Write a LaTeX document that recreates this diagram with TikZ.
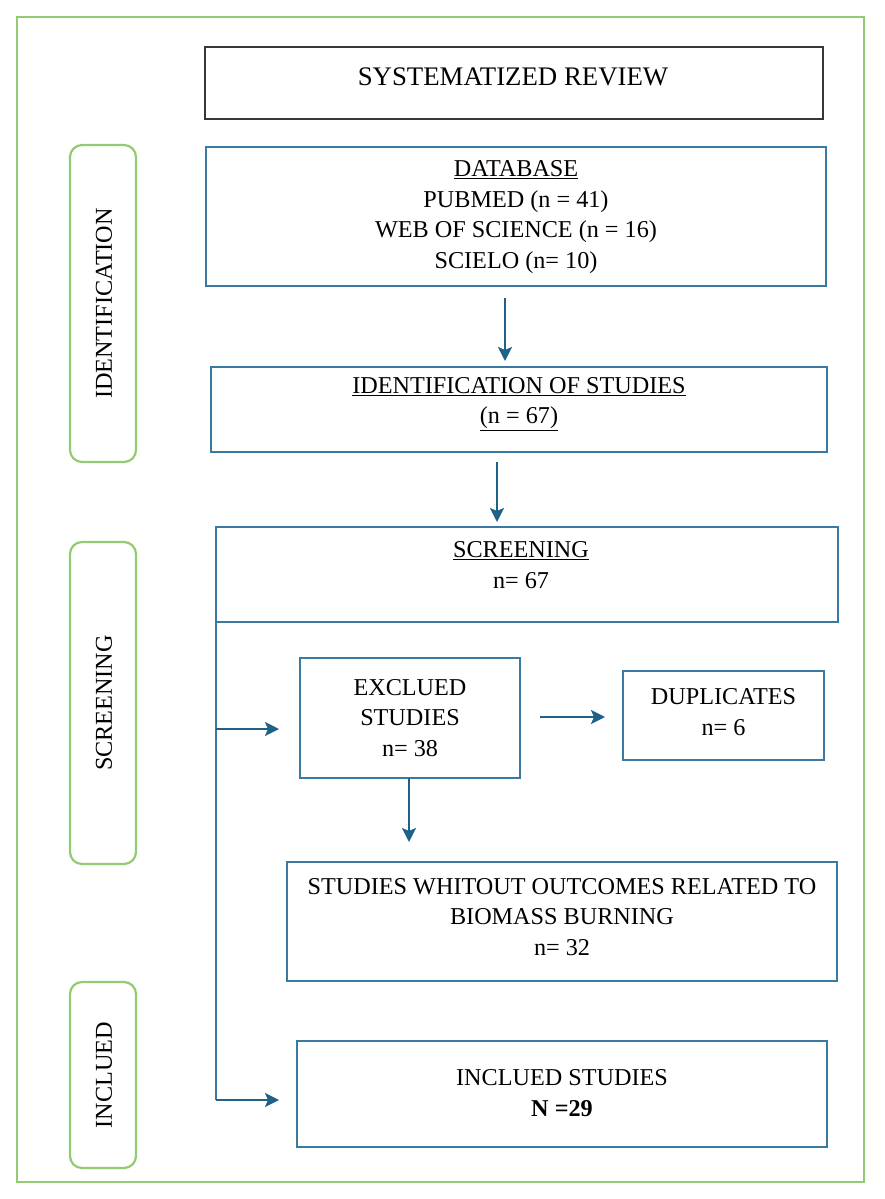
\documentclass[tikz,border=0pt]{standalone}
\usepackage{fontspec}
\setmainfont{Liberation Serif}
\usetikzlibrary{arrows.meta}
\definecolor{frameGreen}{RGB}{146,204,114}
\definecolor{boxBlue}{RGB}{58,122,162}
\definecolor{arrowBlue}{RGB}{30,98,138}
\definecolor{darkGray}{RGB}{55,55,55}
\begin{document}
\begin{tikzpicture}[x=1pt,y=-1pt,
  txt/.style={font=\fontsize{24.2}{30.5}\selectfont, align=center, inner sep=0pt, text=black},
  titletxt/.style={txt, font=\fontsize{26.8}{32}\selectfont},
  boxbase/.style={rectangle, inner sep=0pt, line width=2pt},
  bluebox/.style={boxbase, draw=boxBlue},
  graybox/.style={boxbase, draw=darkGray},
  sidebox/.style={rectangle, rounded corners=12pt, draw=frameGreen, line width=2.2pt, inner sep=0pt, minimum width=66pt},
  arr/.style={draw=arrowBlue, line width=2pt, -{Stealth[length=14pt,width=14pt,inset=3pt]}},
  plainline/.style={draw=boxBlue, line width=2pt}
]
\useasboundingbox (0,0) rectangle (884,1199);
\fill[white] (0,0) rectangle (884,1199);

% outer frame
\node[rectangle, draw=frameGreen, line width=2.2pt, minimum width=847pt, minimum height=1165pt, inner sep=0pt] (frame) at (440.5,599.5) {};

% side labels
\node[sidebox, minimum height=317pt] (sideId) at (103,303.5) {};
\node[txt, rotate=90] (sideIdT) at (104,303.5) {IDENTIFICATION};
\node[sidebox, minimum height=322pt] (sideScr) at (103,703) {};
\node[txt, rotate=90] (sideScrT) at (104,703) {SCREENING};
\node[sidebox, minimum height=186pt] (sideInc) at (103,1075) {};
\node[txt, rotate=90] (sideIncT) at (104,1075) {INCLUED};

% boxes
\node[graybox, minimum width=618pt, minimum height=72pt] (sys) at (514,83) {};
\node[titletxt] (sysT) at (513,77) {SYSTEMATIZED REVIEW};

\node[bluebox, minimum width=620pt, minimum height=139pt] (db) at (516,216.5) {};
\node[txt] (dbT) at (516,217) {\underline{DATABASE}\\PUBMED (n = 41)\\WEB OF SCIENCE (n = 16)\\SCIELO (n= 10)};

\node[bluebox, minimum width=616pt, minimum height=85pt] (ident) at (519,409.5) {};
\node[txt] (identT) at (519,404) {\underline{IDENTIFICATION OF STUDIES}\\\underline{(n = 67)}};

\node[bluebox, minimum width=622pt, minimum height=95pt] (scr) at (527,574.5) {};
\node[txt] (scrT) at (521,565) {\underline{SCREENING}\\n= 67};

\node[bluebox, minimum width=220pt, minimum height=120pt] (excl) at (410,718) {};
\node[txt] (exclT) at (410,718) {EXCLUED\\STUDIES\\n= 38};

\node[bluebox, minimum width=201pt, minimum height=89pt] (dup) at (723.5,715.5) {};
\node[txt] (dupT) at (723.5,712) {DUPLICATES\\n= 6};

\node[bluebox, minimum width=550pt, minimum height=119pt] (wout) at (562,921.5) {};
\node[txt] (woutT) at (562,917) {STUDIES WHITOUT OUTCOMES RELATED TO\\BIOMASS BURNING\\n= 32};

\node[bluebox, minimum width=530pt, minimum height=106pt] (incl) at (562,1094) {};
\node[txt] (inclT) at (562,1093) {INCLUED STUDIES\\\textbf{N =29}};

% connector coordinates
\coordinate (a1s) at (505,298);
\coordinate (a1e) at (505,361);
\coordinate (a2s) at (497,462);
\coordinate (a2e) at (497,522);
\coordinate (lineTop) at (216,622);
\coordinate (br1) at (216,729);
\coordinate (br1e) at (279,729);
\coordinate (lineBot) at (216,1100);
\coordinate (br2e) at (279,1100);
\coordinate (a3s) at (540,717);
\coordinate (a3e) at (605,717);
\coordinate (a4s) at (409,778);
\coordinate (a4e) at (409,842);

% connectors
\draw[arr] (a1s) -- (a1e);
\draw[arr] (a2s) -- (a2e);
\draw[plainline] (lineTop) -- (lineBot);
\draw[arr] (br1) -- (br1e);
\draw[arr] (lineBot) -- (br2e);
\draw[arr] (a3s) -- (a3e);
\draw[arr] (a4s) -- (a4e);
\end{tikzpicture}
\end{document}
